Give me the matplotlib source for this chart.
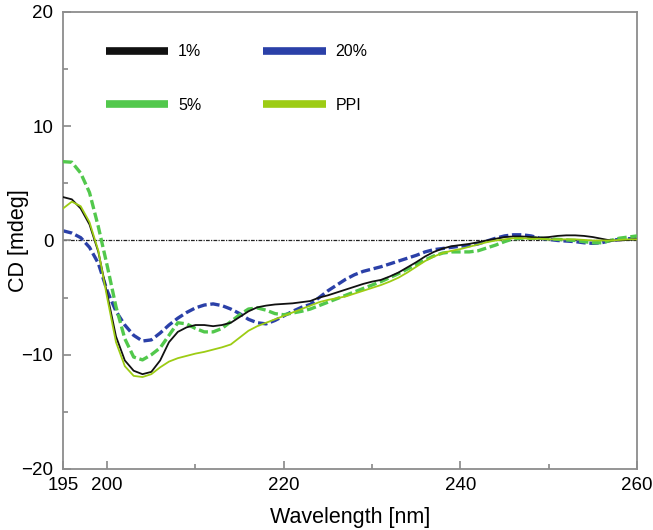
import matplotlib
matplotlib.use("Agg")
import matplotlib.pyplot as plt
from matplotlib.lines import Line2D
from matplotlib.ticker import MultipleLocator, FixedLocator
import numpy as np

plt.rcParams['font.family'] = ['Liberation Sans', 'DejaVu Sans']

# wavelength grid (nm)
wavelength = np.arange(195, 261)

# CD signal [mdeg]
cd_1pct = [3.8, 3.6, 2.8, 1.4, -1.0, -4.7, -8.4, -10.5, -11.4, -11.7,
           -11.5, -10.5, -8.9, -8.0, -7.6, -7.4, -7.4, -7.5, -7.4, -7.2,
           -6.7, -6.2, -5.85, -5.7, -5.6, -5.55, -5.5, -5.4, -5.3, -5.0,
           -4.8, -4.55, -4.3, -4.05, -3.8, -3.6, -3.45, -3.15, -2.8, -2.35,
           -1.9, -1.4, -1.0, -0.7, -0.5, -0.4, -0.3, -0.15, 0.0, 0.15,
           0.3, 0.35, 0.35, 0.3, 0.25, 0.3, 0.4, 0.45, 0.45, 0.4,
           0.3, 0.15, 0.0, 0.0, 0.05, 0.1]
cd_5pct = [6.9, 6.85, 5.9, 4.2, 1.2, -2.2, -5.8, -8.6, -10.2, -10.45,
           -10.0, -9.4, -8.3, -7.2, -7.3, -7.7, -8.0, -8.0, -7.7, -7.1,
           -6.5, -6.0, -5.9, -6.1, -6.4, -6.5, -6.35, -6.2, -6.0, -5.7,
           -5.4, -5.1, -4.8, -4.5, -4.2, -3.9, -3.6, -3.25, -2.9, -2.5,
           -2.1, -1.7, -1.35, -1.1, -1.0, -1.0, -1.0, -0.9, -0.65, -0.4,
           -0.1, 0.15, 0.2, 0.2, 0.2, 0.15, 0.1, 0.05, 0.0, -0.1,
           -0.2, -0.2, 0.0, 0.2, 0.3, 0.4]
cd_20pct = [0.85, 0.65, 0.25, -0.6, -2.0, -4.4, -6.2, -7.4, -8.3, -8.8,
            -8.7, -8.1, -7.4, -6.8, -6.3, -5.9, -5.65, -5.55, -5.7, -6.0,
            -6.4, -6.9, -7.2, -7.3, -7.0, -6.6, -6.2, -5.85, -5.6, -5.0,
            -4.4, -3.9, -3.4, -3.0, -2.7, -2.5, -2.3, -2.05, -1.8, -1.55,
            -1.3, -1.0, -0.8, -0.7, -0.6, -0.5, -0.45, -0.3, -0.05, 0.2,
            0.4, 0.5, 0.5, 0.4, 0.2, 0.1, 0.0, -0.05, -0.1, -0.2,
            -0.25, -0.2, 0.0, 0.1, 0.15, 0.2]
cd_ppi = [2.8, 3.4, 3.0, 1.6, -0.9, -5.0, -8.9, -11.0, -11.85, -11.95,
          -11.7, -11.1, -10.6, -10.3, -10.1, -9.9, -9.75, -9.55, -9.35, -9.1,
          -8.5, -7.9, -7.5, -7.2, -6.9, -6.6, -6.3, -6.0, -5.7, -5.4,
          -5.2, -5.05, -4.9, -4.65, -4.4, -4.15, -3.9, -3.6, -3.25, -2.8,
          -2.3, -1.8, -1.4, -1.1, -0.9, -0.75, -0.55, -0.35, -0.15, 0.0,
          0.1, 0.2, 0.2, 0.15, 0.15, 0.1, 0.1, 0.1, 0.1, 0.05,
          0.0, 0.0, 0.0, 0.05, 0.1, 0.1]

labels = ["1%", "5%", "20%", "PPI"]
colors = ["#111111", "#52c84c", "#2b40a8", "#9dcc14"]

fig = plt.figure(figsize=(6.53, 5.30), dpi=100)
ax = fig.add_axes([0.0965, 0.1151, 0.879, 0.8623])

# zero reference line
ax.axhline(0, color="#222222", lw=0.9, linestyle=(0, (3, 1, 1, 1)), zorder=1)

ax.plot(wavelength, cd_20pct, color=colors[2], lw=2.4, linestyle=(0, (2.8, 1.1)), zorder=2)
ax.plot(wavelength, cd_5pct, color=colors[1], lw=2.4, linestyle=(0, (2.8, 1.1)), zorder=3)
ax.plot(wavelength, cd_1pct, color=colors[0], lw=1.3, zorder=4)
ax.plot(wavelength, cd_ppi, color=colors[3], lw=1.3, zorder=5)

ax.set_xlim(195, 260)
ax.set_ylim(-20, 20)
ax.xaxis.set_major_locator(FixedLocator([195, 200, 220, 240, 260]))
ax.xaxis.set_minor_locator(FixedLocator([210, 230, 250]))
ax.yaxis.set_major_locator(MultipleLocator(10))
ax.yaxis.set_minor_locator(MultipleLocator(5))
ax.tick_params(which="major", direction="in", length=6, width=1.2, color="#888888",
               labelsize=13.5, pad=6)
ax.tick_params(which="minor", direction="in", length=3.5, width=1.2, color="#888888")
ax.tick_params(axis="y", which="major", pad=7)

for s in ax.spines.values():
    s.set_color("#8c8c8c")
    s.set_linewidth(1.3)

ax.set_xlabel("Wavelength [nm]", fontsize=15.5, labelpad=9)
ax.set_ylabel("CD [mdeg]", fontsize=15.5)
ax.yaxis.set_label_coords(-0.059, 0.5)

handles = [Line2D([], [], color=c, lw=5.5, solid_capstyle="butt") for c in colors]
ax.legend(handles, labels, ncol=2, loc="upper left", bbox_to_anchor=(0.075, 0.929),
          frameon=False, fontsize=11.5, handlelength=3.9, handletextpad=0.6,
          columnspacing=3.9, labelspacing=2.4, borderpad=0, borderaxespad=0)

fig.savefig("out.png", dpi=100)
